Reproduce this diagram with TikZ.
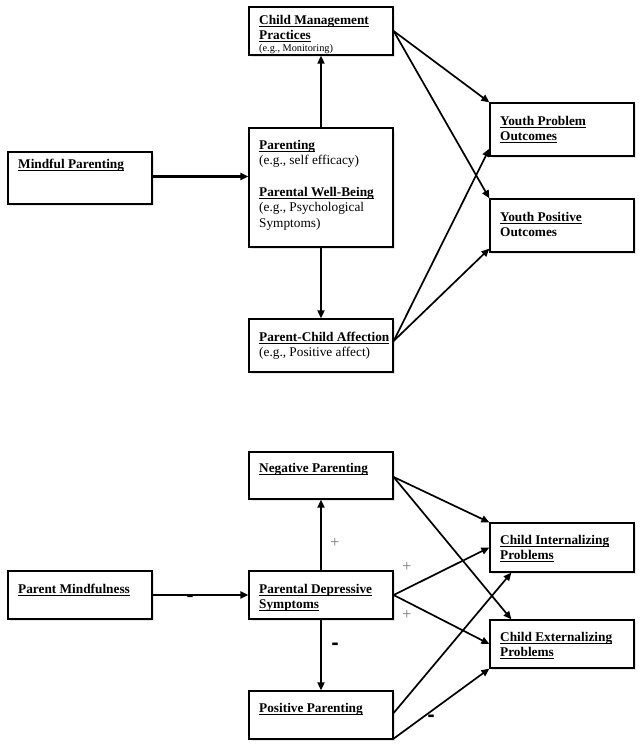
\documentclass[tikz,border=0pt]{standalone}
\usepackage{fontspec}
\setmainfont{Liberation Serif}
\newfontfamily\djv{DejaVu Sans}
\usetikzlibrary{arrows.meta,shadows}
\newcommand{\hd}[1]{\textbf{\setbox0\hbox{#1}\rlap{\rule[-2.6pt]{\wd0}{0.9pt}}\box0}}
\newcommand{\bt}[1]{\parbox[t]{140pt}{\raggedright\fontsize{13.3}{15.5}\selectfont #1}}
\newcommand{\smalleg}[1]{{\fontsize{10.3}{12}\selectfont #1}}
\begin{document}
\begin{tikzpicture}[x=1pt,y=-1pt,
  box/.style={draw, line width=1.25pt, minimum width=144pt, inner sep=0pt, fill=white,
    drop shadow={shadow xshift=1.5pt, shadow yshift=-1.5pt, opacity=0.2}},
  txt/.style={anchor=base west, inner sep=0pt},
  arr/.style={line width=1.7pt, -{Triangle[length=8pt,width=7pt]}},
  thickarr/.style={line width=2.8pt, -{Triangle[length=8pt,width=7pt]}},
  plus/.style={text=black!55, font=\fontsize{16}{16}\selectfont},
  minus/.style={font=\djv\fontsize{18}{18}\selectfont\bfseries}]
\useasboundingbox (0,0) rectangle (640,750);
\fill[white] (0,0) rectangle (640,750);

% ---------- top diagram ----------
\node[box, minimum height=48pt] (cm) at (321,31) {};
\node[box, minimum height=52pt] (mp) at (80,178) {};
\node[box, minimum height=119pt] (par) at (321,187.5) {};
\node[box, minimum height=53pt] (pca) at (321,345.5) {};
\node[box, minimum height=53pt] (ypr) at (562,129.5) {};
\node[box, minimum height=53pt] (ypo) at (562,225.5) {};

\node[txt] (tcm) at (259,24) {\bt{\hd{Child Management}\\\hd{Practices}\\[-3.5pt]\smalleg{(e.g., Monitoring)}}};
\node[txt] (tmp) at (18,168) {\bt{\hd{Mindful Parenting}}};
\node[txt] (tpar) at (259,149) {\bt{\hd{Parenting}\\(e.g., self efficacy)\\[16pt]\hd{Parental Well-Being}\\(e.g., Psychological\\Symptoms)}};
\node[txt] (tpca) at (259,341) {\bt{\hd{Parent-Child Affection}\\(e.g., Positive affect)}};
\node[txt] (typr) at (500,125) {\bt{\hd{Youth Problem}\\\hd{Outcomes}}};
\node[txt] (typo) at (500,221) {\bt{\hd{Youth Positive}\\\textbf{Outcomes}}};

\draw[thickarr] ([yshift=1.5pt]mp.east) -- ([yshift=1.5pt]par.west |- mp.east);
\draw[arr] (par.north) -- (cm.south);
\draw[arr] (par.south) -- (pca.north);
\draw[arr] (cm.east) -- (ypr.north west);
\draw[arr] (cm.east) -- (ypo.north west);
\draw[arr] ([yshift=4.5pt]pca.east) -- ([yshift=8pt]ypr.south west);
\draw[arr] ([yshift=4.5pt]pca.east) -- ([yshift=4pt]ypo.south west);

% ---------- bottom diagram ----------
\node[box, minimum height=47pt] (np) at (321,475.5) {};
\node[box, minimum height=48pt] (pm) at (80,595) {};
\node[box, minimum height=48pt] (pds) at (321,595) {};
\node[box, minimum height=48pt] (pp) at (321,715) {};
\node[box, minimum height=49pt] (ci) at (562,547.5) {};
\node[box, minimum height=48pt] (ce) at (562,644) {};

\node[txt] (tnp) at (259,472) {\bt{\hd{Negative Parenting}}};
\node[txt] (tpm) at (18,593) {\bt{\hd{Parent Mindfulness}}};
\node[txt] (tpds) at (259,593) {\bt{\hd{Parental Depressive}\\\hd{Symptoms}}};
\node[txt] (tpp) at (259,712) {\bt{\hd{Positive Parenting}}};
\node[txt] (tci) at (500,544) {\bt{\hd{Child Internalizing}\\\hd{Problems}}};
\node[txt] (tce) at (500,641) {\bt{\hd{Child Externalizing}\\\hd{Problems}}};

\draw[thickarr] (pm.east) -- (pds.west);
\draw[arr] (pds.north) -- (np.south);
\draw[arr] (pds.south) -- (pp.north);
\draw[arr] ([yshift=-1.5pt]np.east) -- (ci.north west);
\draw[arr] ([yshift=-1.5pt]np.east) -- ([xshift=22pt]ce.north west);
\draw[arr] (pds.east) -- (ci.west);
\draw[arr] (pds.east) -- (ce.west);
\draw[arr] ([yshift=2pt]pp.east) -- ([xshift=22pt]ci.south west);
\draw[arr] ([yshift=1pt]pp.south east) -- (ce.south west);

\node[minus] (m1) at (190,598) {-};
\node[plus] (p1) at (335,543) {+};
\node[minus] (m2) at (335,646) {-};
\node[plus] (p2) at (407,567) {+};
\node[plus] (p3) at (407,615) {+};
\node[minus] (m3) at (431,718) {-};
\end{tikzpicture}
\end{document}
